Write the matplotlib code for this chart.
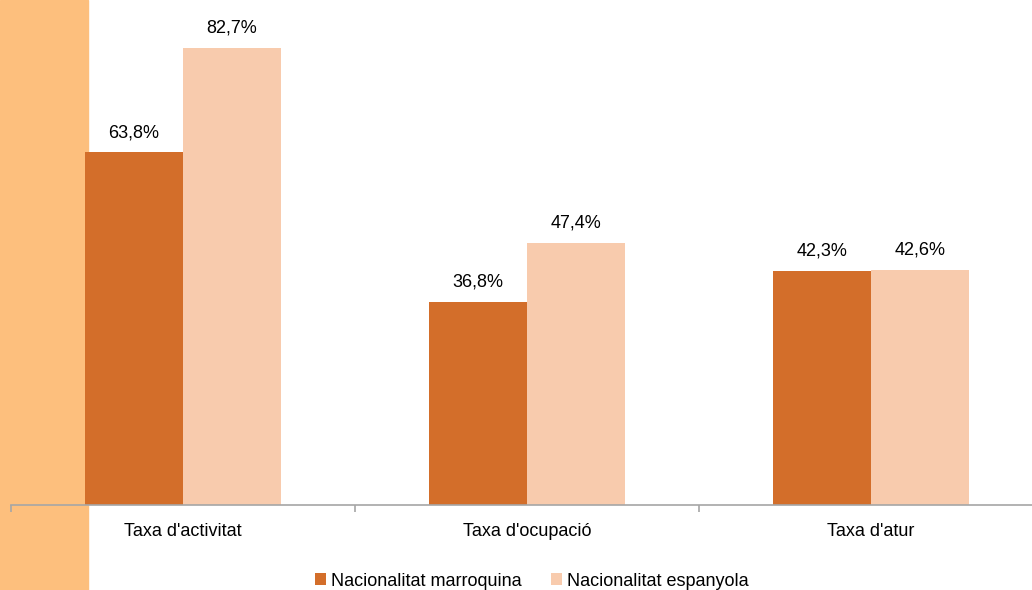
import matplotlib.pyplot as plt
import matplotlib.patches as mpatches
import numpy as np

plt.rcParams['font.family'] = ['Liberation Sans', 'DejaVu Sans']

categories = ["Taxa d'activitat", "Taxa d'ocupació", "Taxa d'atur"]
marroquina = [63.8, 36.8, 42.3]
espanyola = [82.7, 47.4, 42.6]
series_names = ["Nacionalitat marroquina", "Nacionalitat espanyola"]

c_mar = '#D36E2A'
c_esp = '#F8CBAD'
c_strip = '#FDBF7D'

W, H = 1032, 590
fig = plt.figure(figsize=(W / 100, H / 100), dpi=100)

# franja taronja a l'esquerra
fig.patches.append(mpatches.Rectangle((0, 0), 88 / W, 1, transform=fig.transFigure,
                                      color=c_strip, zorder=0))

ax = fig.add_axes([11 / W, 85 / H, 1032 / W, 505 / H])
ax.set_zorder(2)
ax.patch.set_alpha(0)

x = np.arange(len(categories))
w = 0.285
b1 = ax.bar(x - w / 2, marroquina, w, color=c_mar, label=series_names[0], zorder=2)
b2 = ax.bar(x + w / 2, espanyola, w, color=c_esp, label=series_names[1], zorder=2)

for bars, vals in ((b1, marroquina), (b2, espanyola)):
    for r, v in zip(bars, vals):
        ax.annotate(f"{v:.1f}%".replace('.', ','), (r.get_x() + r.get_width() / 2, v),
                    xytext=(0, 11), textcoords='offset points', ha='center',
                    va='baseline', fontsize=13, color='black')

ax.set_xlim(-0.5, 2.5)
ax.set_ylim(0, 505 / (457 / 82.7))

for s in ('left', 'top', 'right'):
    ax.spines[s].set_visible(False)
ax.spines['bottom'].set_color('#A6A6A6')
ax.spines['bottom'].set_linewidth(1.2)
ax.set_yticks([])

ax.set_xticks(x)
ax.set_xticklabels(categories, fontsize=13, color='black')
ax.tick_params(axis='x', which='major', length=0, pad=13)
ax.set_xticks([-0.5, 0.5, 1.5, 2.5], minor=True)
ax.tick_params(axis='x', which='minor', length=5, color='#A6A6A6', width=1.2, direction='out')

fig.legend(handles=[b1, b2], loc='center', bbox_to_anchor=(532 / W, 9 / H),
           ncol=2, frameon=False, fontsize=13, handlelength=0.6, handleheight=0.6,
           handletextpad=0.3, columnspacing=1.6, borderaxespad=0)

fig.savefig('out.png', dpi=100)
